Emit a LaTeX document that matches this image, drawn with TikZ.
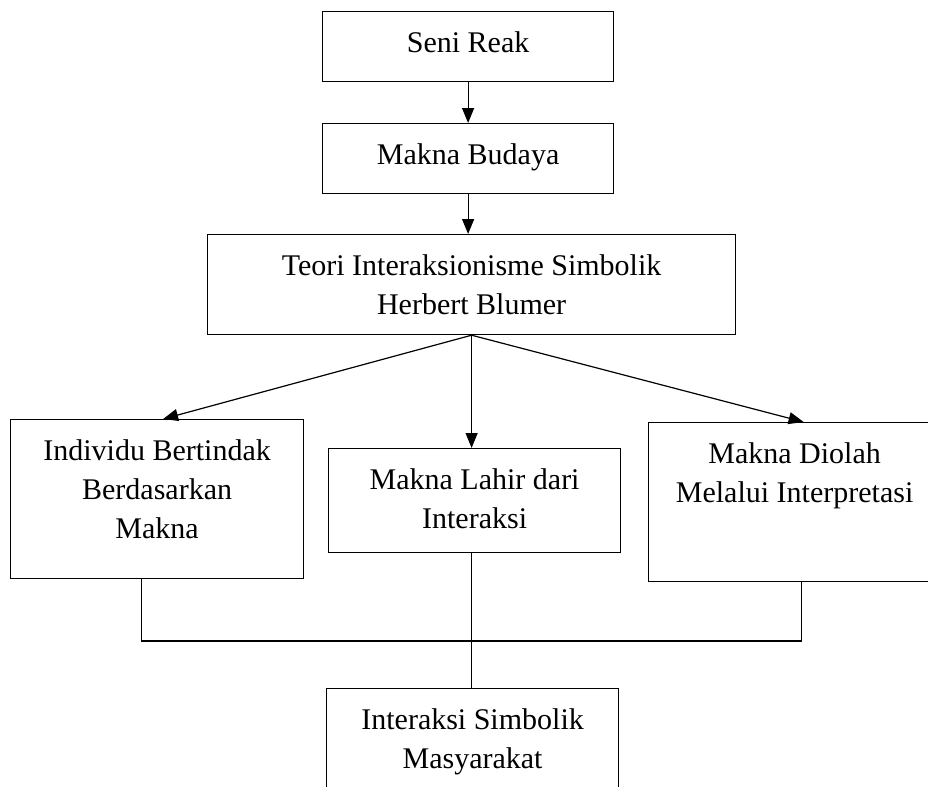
\documentclass[tikz,border=0pt]{standalone}
\usepackage{fontspec}
\setmainfont{Liberation Serif}
\usepackage{tikz}
\usetikzlibrary{arrows.meta}

% isi kotak: lebar, tinggi, teks (rata atas)
\newcommand{\isi}[3]{\parbox[c][#2][t]{#1}{\centering\rule{0pt}{20.5pt}#3}}

\begin{document}
\begin{tikzpicture}[x=0.5pt, y=-0.5pt,
	kotak/.style={draw, line width=0.6pt, inner sep=0pt, anchor=north west, font=\fontsize{15}{19.5}\selectfont},
	panah/.style={line width=0.6pt, -{Triangle[length=7.5pt,width=6pt]}},
	garis/.style={line width=0.6pt}]
		\clip (0,0) rectangle (928,787);
		\fill[white] (0,0) rectangle (928,787);

		\path (322,11) node[kotak] (seni) {\isi{145.5pt}{35pt}{Seni Reak}}
		(322,123) node[kotak] (budaya) {\isi{145.5pt}{35pt}{Makna Budaya}}
		(207,234) node[kotak] (teori) {\isi{264pt}{50pt}{Teori Interaksionisme Simbolik\\Herbert Blumer}}
		(10,419) node[kotak] (individu) {\isi{146.5pt}{79.5pt}{Individu Bertindak\\Berdasarkan\\Makna}}
		(328,448) node[kotak] (lahir) {\isi{146pt}{52pt}{Makna Lahir dari\\Interaksi}}
		(648,422) node[kotak] (diolah) {\isi{146pt}{79.5pt}{Makna Diolah\\Melalui Interpretasi}}
		(326,688) node[kotak] (masyarakat) {\isi{146pt}{56pt}{Interaksi Simbolik\\Masyarakat}};

		\coordinate (gabung) at (470,641);

		\draw[panah] (seni.south) -- (budaya.north);
		\draw[panah] (budaya.south) -- (budaya.south |- teori.north);
		\draw[panah] (teori.south) -- ([xshift=3pt]individu.north);
		\draw[panah] (teori.south) -- (teori.south |- lahir.north);
		\draw[panah] (teori.south) -- ([xshift=4.5pt]diolah.north);

		\draw[garis] ([xshift=-7.75pt]individu.south) |- (gabung) -| ([xshift=3.5pt]diolah.south);
		\draw[garis] (teori.south |- lahir.south) -- (teori.south |- masyarakat.north);
	\end{tikzpicture}
\end{document}
